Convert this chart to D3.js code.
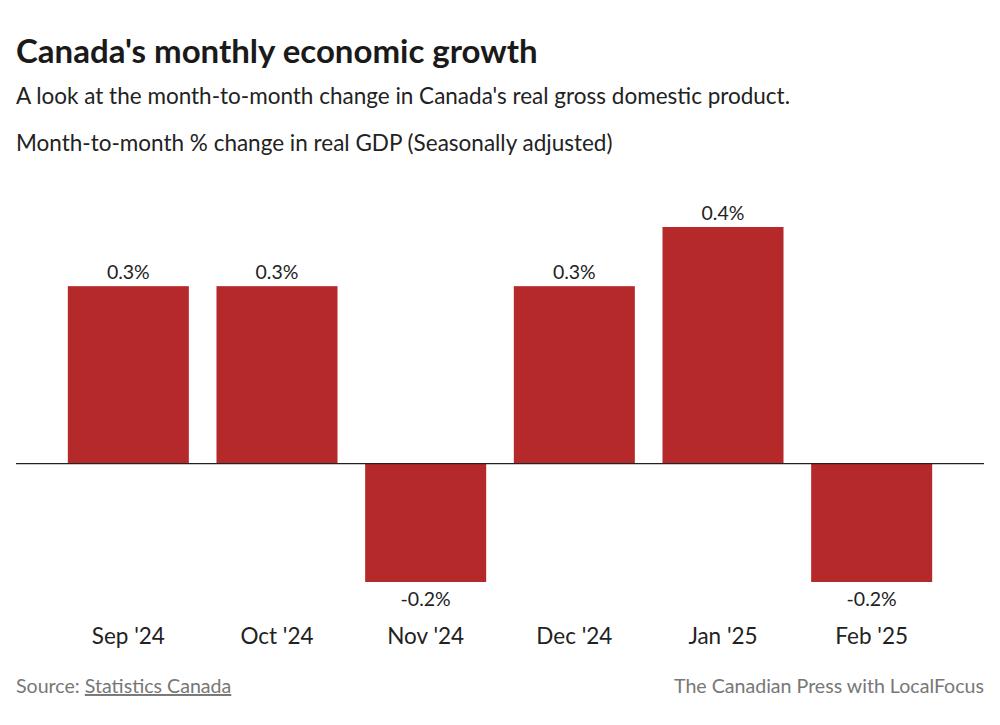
<!DOCTYPE html>
<html>
<head>
<meta charset="utf-8">
<script src="https://cdn.jsdelivr.net/npm/d3@7"></script>
<style>
  body { margin: 0; background: #fff; }
  svg { font-family: Lato, "Open Sans", sans-serif; }
</style>
</head>
<body>
<div id="wrapper"></div>
<script>
const months = ["Sep '24", "Oct '24", "Nov '24", "Dec '24", "Jan '25", "Feb '25"]
const growth = [0.3, 0.3, -0.2, 0.3, 0.4, -0.2]
const valueLabels = ["0.3%", "0.3%", "-0.2%", "0.3%", "0.4%", "-0.2%"]

const width = 1000
const height = 725

const svg = d3.select("#wrapper")
    .append("svg")
    .attr("width", width)
    .attr("height", height)

// header
svg.append("text")
    .attr("x", 16).attr("y", 63)
    .text("Canada's monthly economic growth")
    .attr("font-size", "33px")
    .attr("font-weight", "bold")
    .attr("fill", "#1a1a1a")

svg.append("text")
    .attr("x", 16).attr("y", 104)
    .text("A look at the month-to-month change in Canada's real gross domestic product.")
    .attr("font-size", "22.5px")
    .attr("fill", "#222")

svg.append("text")
    .attr("x", 16).attr("y", 151)
    .text("Month-to-month % change in real GDP (Seasonally adjusted)")
    .attr("font-size", "22.5px")
    .attr("fill", "#222")

const xScale = d3.scaleBand()
    .domain(months)
    .range([54, 946])
    .paddingInner(0.186)
    .paddingOuter(0.093)

const yScale = d3.scaleLinear()
    .domain([-0.2, 0.4])
    .range([582, 227])

const bars = svg.append("g")
bars.selectAll("rect")
    .data(growth)
    .enter()
    .append("rect")
    .attr("x", (d, i) => xScale(months[i]))
    .attr("y", d => yScale(Math.max(0, d)))
    .attr("width", xScale.bandwidth())
    .attr("height", d => Math.abs(yScale(d) - yScale(0)))
    .attr("fill", "#b5292a")

// zero line
svg.append("line")
    .attr("x1", 16).attr("x2", 984)
    .attr("y1", yScale(0)).attr("y2", yScale(0))
    .attr("stroke", "#222")
    .attr("stroke-width", 1.3)

// value labels
svg.append("g").selectAll("text")
    .data(growth)
    .enter()
    .append("text")
    .attr("x", (d, i) => xScale(months[i]) + xScale.bandwidth() / 2)
    .attr("y", d => d >= 0 ? yScale(d) - 7 : yScale(d) + 24)
    .attr("text-anchor", "middle")
    .attr("font-size", "19.5px")
    .attr("fill", "#222")
    .text((d, i) => valueLabels[i])

// category axis
const xAxis = svg.append("g")
    .attr("transform", "translate(0,618)")
    .call(d3.axisBottom(xScale).tickSize(0).tickPadding(10))
xAxis.select(".domain").remove()
xAxis.selectAll("text")
    .attr("font-size", "22.5px")
    .attr("font-family", "Lato, sans-serif")
    .attr("fill", "#222")

// footer
const src = svg.append("text")
    .attr("x", 16).attr("y", 693)
    .attr("font-size", "19.6px")
    .attr("fill", "#777")
src.append("tspan").text("Source:  ")
src.append("tspan").text("Statistics Canada")
    .attr("text-decoration", "underline")

svg.append("text")
    .attr("x", 984).attr("y", 693)
    .attr("text-anchor", "end")
    .attr("font-size", "19.6px")
    .attr("fill", "#777")
    .text("The Canadian Press with LocalFocus")
</script>
</body>
</html>
